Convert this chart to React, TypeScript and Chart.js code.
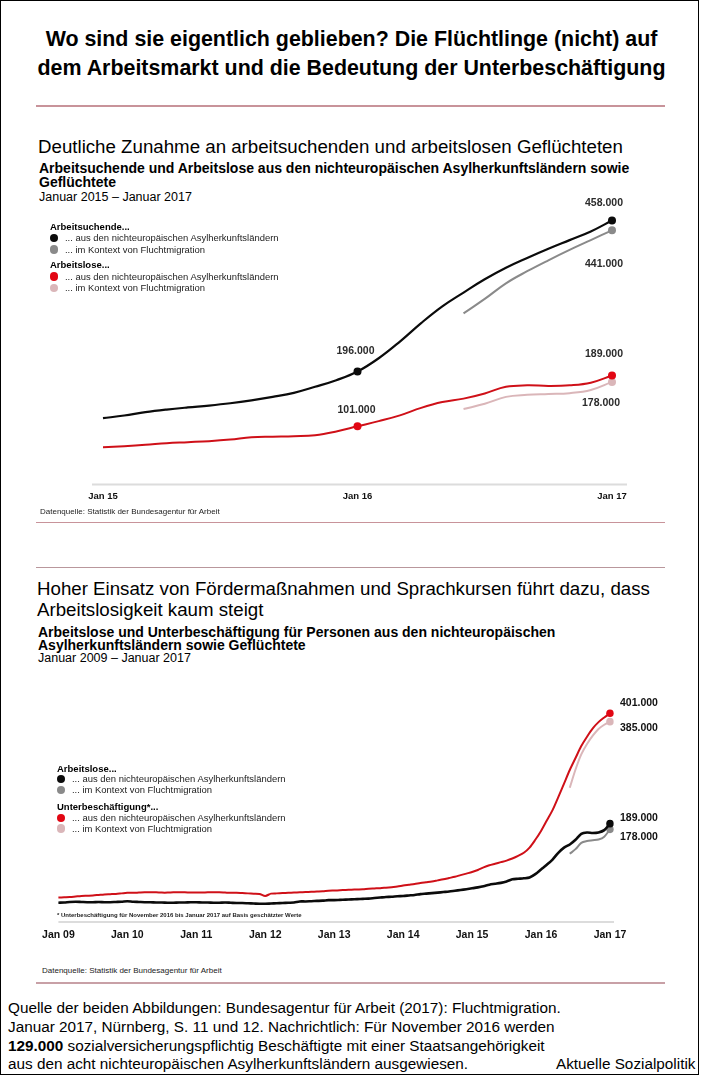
import React, { useEffect, useRef } from "react";
import { Chart, registerables } from "chart.js";
Chart.register(...registerables);

const FONT = '"Liberation Sans", Arial, Helvetica, sans-serif';

// ---------- categories ----------
const MONTH_NAMES = ["Jan", "Feb", "Mär", "Apr", "Mai", "Jun", "Jul", "Aug", "Sep", "Okt", "Nov", "Dez"];
const buildMonths = (firstYear: number, lastYear: number) => {
  const out: string[] = [];
  for (let y = firstYear; y < lastYear; y++) for (const m of MONTH_NAMES) out.push(`${m} ${String(y).padStart(2, "0")}`);
  out.push(`Jan ${String(lastYear).padStart(2, "0")}`);
  return out;
};
const months1 = buildMonths(15, 17); // Jan 15 .. Jan 17
const months2 = buildMonths(9, 17); // Jan 09 .. Jan 17
const leadingGap = (n: number) => Array(n).fill(null);

// ---------- chart 1 data (in thousands) ----------
const seekersAsylum1 = [115, 119.7, 125.5, 130, 133.7, 137, 141, 146, 152, 159, 169.5, 181, 196, 219, 248, 280, 309, 333, 356, 376, 393, 409, 424, 439, 458];
const seekersRefugee1 = [...leadingGap(17), 297, 322, 349, 370, 389, 407, 424, 441];
const unemployedAsylum1 = [64.7, 66.5, 68.8, 71.7, 73.4, 75.2, 78, 82, 83, 83.9, 85.6, 92, 101, 110, 120, 133, 143, 149, 158, 169.5, 172, 171, 172, 176.5, 189];
const unemployedRefugee1 = [...leadingGap(17), 131, 140, 152, 155.5, 157, 158.5, 164, 178];

// ---------- chart 2 data (in thousands) ----------
const unemployedAsylum2 = [
  37, 37.5, 38.5, 39, 38.5, 38, 38, 38.5, 38, 38, 38.5, 39,
  40, 39, 38.5, 38, 38, 37.5, 37.5, 37, 37, 37.5, 37.5, 38,
  38, 37.5, 37.5, 37, 37, 37.5, 37, 36.5, 36.5, 36, 35.5, 35,
  35, 35.5, 36, 36.5, 37, 37.5, 39.5, 39.5, 40, 40.5, 41, 42,
  42, 42.5, 43, 43.5, 44, 44.5, 45, 46, 47, 48, 48.5, 49.5,
  50, 51, 52, 53.5, 54.5, 55.5, 56.5, 57.5, 58.5, 60, 61.5, 63,
  64.7, 66.5, 68.8, 71.7, 73.4, 75.2, 78, 82, 83, 83.9, 85.6, 92,
  101, 110, 120, 133, 143, 149, 158, 169.5, 172, 171, 172, 176.5, 189,
];
const unemployedRefugee2 = [...leadingGap(89), 131, 140, 152, 155.5, 157, 158.5, 164, 178];
const underAsylum2 = [
  47, 47.5, 48, 49, 50, 50.5, 51, 52, 53, 53.5, 54, 55,
  56, 56, 56.5, 57, 57, 57, 56.5, 56.5, 57, 57, 57, 56.5,
  56.5, 56.5, 57, 57, 57, 56.5, 56, 56, 55.5, 55, 54.5, 54,
  50, 54.5, 55, 55.5, 56, 56.5, 57, 57.5, 58, 58.5, 59, 60,
  60.5, 61, 61.5, 62, 62.5, 63, 64, 64.5, 65, 66, 67, 68,
  70, 71.5, 73, 75, 76.5, 78, 80, 82, 84.5, 87, 90, 93,
  96, 100, 105, 109, 112, 115, 118, 122, 127, 133, 143, 158,
  175, 195, 215, 240, 266, 292, 315, 338, 356, 372, 384, 393, 401,
];
const underRefugee2 = [...leadingGap(89), 258, 293, 322, 342, 358, 371, 379, 385];

// ---------- colours ----------
const C_BLACK = "#0b0b0b";
const C_GRAY = "#8a8a8a";
const C_RED = "#cf1018";
const C_RED_DOT = "#e20613";
const C_PINK = "#dab6b9";

// ---------- plugins ----------
const axisLinePlugin = {
  id: "axisLine",
  beforeDatasetsDraw(chart: any, _a: any, opts: any) {
    const { ctx, chartArea } = chart;
    ctx.save();
    ctx.strokeStyle = opts.color || "#dcdcdc";
    ctx.lineWidth = opts.width || 2;
    ctx.beginPath();
    ctx.moveTo(chartArea.left - (opts.extLeft || 0), chartArea.bottom);
    ctx.lineTo(chartArea.right + (opts.extRight || 0), chartArea.bottom);
    ctx.stroke();
    ctx.restore();
  },
};

const valueLabelPlugin = {
  id: "valueLabels",
  afterDatasetsDraw(chart: any, _a: any, opts: any) {
    const { ctx } = chart;
    ctx.save();
    ctx.font = `bold ${opts.size}px ${FONT}`;
    ctx.fillStyle = opts.color;
    ctx.textBaseline = "middle";
    for (const it of opts.items || []) {
      const pt = chart.getDatasetMeta(it.ds).data[it.i];
      if (!pt) continue;
      ctx.textAlign = it.align || "center";
      ctx.fillText(it.text, pt.x + it.dx, pt.y + it.dy);
    }
    ctx.restore();
  },
};

const markerRadius = (indices: number[], r: number) => (c: any) => (indices.includes(c.dataIndex) ? r : 0);

function januaryOnly(this: any, value: any) {
  const l = this.getLabelForValue(value) as string;
  return l.startsWith("Jan") ? l : "";
}

// ---------- chart components ----------
function ChartOne() {
  const ref = useRef<HTMLCanvasElement | null>(null);
  useEffect(() => {
    if (!ref.current) return;
    const ds = (data: any[], color: string, dot: string, markers: number[], width = 2) => ({
      data,
      borderColor: color,
      borderWidth: width,
      backgroundColor: dot,
      pointBackgroundColor: dot,
      pointBorderWidth: 0,
      pointRadius: markerRadius(markers, 4),
      pointHoverRadius: 0,
      tension: 0.4,
      fill: false,
      spanGaps: false,
    });
    const chart = new Chart(ref.current, {
      type: "line",
      data: {
        labels: months1,
        datasets: [
          ds(seekersAsylum1, C_BLACK, C_BLACK, [12, 24], 2.2),
          ds(seekersRefugee1, C_GRAY, C_GRAY, [24]),
          ds(unemployedAsylum1, C_RED, C_RED_DOT, [12, 24]),
          ds(unemployedRefugee1, C_PINK, C_PINK, [24]),
        ],
      },
      options: {
        animation: false,
        responsive: false,
        events: [],
        layout: { padding: { left: 103, right: 91, top: 16.3, bottom: 15.5 } },
        plugins: {
          legend: { display: false },
          tooltip: { enabled: false },
          axisLine: { color: "#dcdcdc", width: 2, extLeft: 11, extRight: 15 },
          valueLabels: {
            size: 10.5,
            color: "#2b2b2b",
            items: [
              { ds: 0, i: 24, text: "458.000", dx: -8, dy: -17 },
              { ds: 1, i: 24, text: "441.000", dx: -8, dy: 34 },
              { ds: 0, i: 12, text: "196.000", dx: -2, dy: -20 },
              { ds: 2, i: 12, text: "101.000", dx: -1, dy: -16 },
              { ds: 2, i: 24, text: "189.000", dx: -8, dy: -21 },
              { ds: 3, i: 24, text: "178.000", dx: -11, dy: 21 },
            ],
          },
        } as any,
        scales: {
          x: {
            grid: { display: false, drawTicks: false },
            border: { display: false },
            ticks: {
              autoSkip: false,
              maxRotation: 0,
              padding: 6,
              color: "#111",
              font: { family: FONT, size: 9.5, weight: "bold" },
              callback: januaryOnly,
            },
            afterFit: (s: any) => {
              s.height = 20;
            },
          },
          y: { display: false, min: 0, max: 500 },
        },
      },
      plugins: [axisLinePlugin, valueLabelPlugin],
    });
    return () => chart.destroy();
  }, []);
  return <canvas ref={ref} width={703} height={340} style={{ position: "absolute", left: 0, top: 180, width: 703, height: 340 }} />;
}

function ChartTwo() {
  const ref = useRef<HTMLCanvasElement | null>(null);
  useEffect(() => {
    if (!ref.current) return;
    const ds = (data: any[], color: string, dot: string, width = 2) => ({
      data,
      borderColor: color,
      borderWidth: width,
      backgroundColor: dot,
      pointBackgroundColor: dot,
      pointBorderWidth: 0,
      pointRadius: markerRadius([96], 3.8),
      pointHoverRadius: 0,
      tension: 0.3,
      fill: false,
      spanGaps: false,
    });
    const chart = new Chart(ref.current, {
      type: "line",
      data: {
        labels: months2,
        datasets: [
          ds(unemployedAsylum2, C_BLACK, C_BLACK, 2.6),
          ds(unemployedRefugee2, C_GRAY, C_GRAY),
          ds(underAsylum2, C_RED, C_RED_DOT),
          ds(underRefugee2, C_PINK, C_PINK),
        ],
      },
      options: {
        animation: false,
        responsive: false,
        events: [],
        layout: { padding: { left: 58.4, right: 93, top: 13, bottom: 14 } },
        plugins: {
          legend: { display: false },
          tooltip: { enabled: false },
          axisLine: { color: "#dcdcdc", width: 2, extLeft: 0, extRight: 4 },
          valueLabels: {
            size: 10.5,
            color: "#111",
            items: [
              { ds: 2, i: 96, text: "401.000", dx: 10, dy: -10, align: "left" },
              { ds: 3, i: 96, text: "385.000", dx: 10, dy: 6, align: "left" },
              { ds: 0, i: 96, text: "189.000", dx: 10, dy: -6, align: "left" },
              { ds: 1, i: 96, text: "178.000", dx: 10, dy: 8, align: "left" },
            ],
          },
        } as any,
        scales: {
          x: {
            grid: { display: false, drawTicks: false },
            border: { display: false },
            ticks: {
              autoSkip: false,
              maxRotation: 0,
              padding: 7,
              color: "#111",
              font: { family: FONT, size: 10.5, weight: "bold" },
              callback: januaryOnly,
            },
            afterFit: (s: any) => {
              s.height = 24;
            },
          },
          y: { display: false, min: 0, max: 440 },
        },
      },
      plugins: [axisLinePlugin, valueLabelPlugin],
    });
    return () => chart.destroy();
  }, []);
  return <canvas ref={ref} width={703} height={280} style={{ position: "absolute", left: 0, top: 680, width: 703, height: 280 }} />;
}

// ---------- html helpers ----------
type TProps = { x: number; y: number; size: number; bold?: boolean; color?: string; children: React.ReactNode; center?: boolean; ls?: number };
function T({ x, y, size, bold, color, children, center, ls }: TProps) {
  const style: React.CSSProperties = {
    position: "absolute",
    top: y - size / 2,
    fontFamily: FONT,
    fontSize: size,
    lineHeight: `${size}px`,
    fontWeight: bold ? "bold" : "normal",
    color: color || "#000",
    whiteSpace: "nowrap",
    letterSpacing: ls ? `${ls}px` : undefined,
  };
  if (center) {
    style.left = 0;
    style.width = 703;
    style.textAlign = "center";
  } else style.left = x;
  return <div style={style}>{children}</div>;
}

function Dot({ x, y, color, r = 4.2 }: { x: number; y: number; color: string; r?: number }) {
  return <div style={{ position: "absolute", left: x - r, top: y - r, width: 2 * r, height: 2 * r, borderRadius: "50%", background: color }} />;
}

function Rule({ y, x1 = 36, x2 = 665, color = "#c8939a" }: { y: number; x1?: number; x2?: number; color?: string }) {
  return <div style={{ position: "absolute", left: x1, top: y - 0.75, width: x2 - x1, height: 1.5, background: color }} />;
}

function Legend({ x, ys, heads, items }: { x: number; ys: number[]; heads: string[]; items: { label: string; color: string }[] }) {
  return (
    <>
      <T x={x} y={ys[0]} size={9.5} bold>{heads[0]}</T>
      <Dot x={x + 4} y={ys[1]} color={items[0].color} />
      <T x={x + 15} y={ys[1]} size={9.45} color="#222">{items[0].label}</T>
      <Dot x={x + 4} y={ys[2]} color={items[1].color} />
      <T x={x + 15} y={ys[2]} size={9.45} color="#222">{items[1].label}</T>
      <T x={x} y={ys[3]} size={9.5} bold>{heads[1]}</T>
      <Dot x={x + 4} y={ys[4]} color={items[2].color} />
      <T x={x + 15} y={ys[4]} size={9.45} color="#222">{items[2].label}</T>
      <Dot x={x + 4} y={ys[5]} color={items[3].color} />
      <T x={x + 15} y={ys[5]} size={9.45} color="#222">{items[3].label}</T>
    </>
  );
}

const ITEM_ASYL = "... aus den nichteuropäischen  Asylherkunftsländern";
const ITEM_FLUCHT = "... im Kontext  von Fluchtmigration";

export default function App() {
  return (
    <div style={{ position: "absolute", left: 0, top: 0, width: 703, height: 1080, background: "#fff", overflow: "hidden", fontFamily: FONT }}>
      <div style={{ position: "absolute", left: 0, top: 0, width: 697, height: 1073, border: "1px solid #000" }} />
      <T x={0} y={40} size={21.4} bold center>Wo sind sie eigentlich geblieben? Die Flüchtlinge (nicht) auf</T>
      <T x={0} y={69} size={21.4} bold center>dem Arbeitsmarkt und die Bedeutung der Unterbeschäftigung</T>
      <Rule y={106} />

      <T x={38} y={147} size={18.7}>Deutliche Zunahme an arbeitsuchenden und arbeitslosen Geflüchteten</T>
      <T x={39} y={168} size={14} bold>Arbeitsuchende und Arbeitslose aus den nichteuropäischen Asylherkunftsländern sowie</T>
      <T x={39} y={182} size={14} bold>Geflüchtete</T>
      <T x={39} y={197} size={12.5}>Januar 2015 – Januar 2017</T>
      <ChartOne />
      <Legend
        x={50}
        ys={[227, 238, 249.5, 265, 276.5, 288]}
        heads={["Arbeitsuchende...", "Arbeitslose..."]}
        items={[
          { label: ITEM_ASYL, color: C_BLACK },
          { label: ITEM_FLUCHT, color: C_GRAY },
          { label: ITEM_ASYL, color: C_RED_DOT },
          { label: ITEM_FLUCHT, color: C_PINK },
        ]}
      />
      <T x={40} y={512} size={8} color="#222">Datenquelle:  Statistik der Bundesagentur für Arbeit</T>
      <Rule y={522.5} />
      <Rule y={567.5} color="#b9979c" />

      <T x={37} y={589} size={18.7}>Hoher Einsatz von Fördermaßnahmen und Sprachkursen führt dazu, dass</T>
      <T x={37} y={610} size={18.7}>Arbeitslosigkeit kaum steigt</T>
      <T x={38} y={632} size={14} bold>Arbeitslose und Unterbeschäftigung für Personen aus den nichteuropäischen</T>
      <T x={38} y={644.5} size={14} bold>Asylherkunftsländern sowie Geflüchtete</T>
      <T x={38} y={658.5} size={12.5}>Januar 2009 – Januar 2017</T>
      <ChartTwo />
      <Legend
        x={57}
        ys={[768.5, 779, 790, 806.7, 817.7, 828.5]}
        heads={["Arbeitslose...", "Unterbeschäftigung*..."]}
        items={[
          { label: ITEM_ASYL, color: C_BLACK },
          { label: ITEM_FLUCHT, color: C_GRAY },
          { label: ITEM_ASYL, color: C_RED_DOT },
          { label: ITEM_FLUCHT, color: C_PINK },
        ]}
      />
      <T x={57} y={914.5} size={6} bold color="#222">* Unterbeschäftigung  für November 2016 bis Januar  2017 auf Basis  geschätzter Werte</T>
      <T x={42} y={971} size={8} color="#222">Datenquelle:  Statistik der Bundesagentur für Arbeit</T>
      <Rule y={983} color="#c8a0a6" />

      <T x={8} y={1008} size={15.3}>Quelle der beiden Abbildungen: Bundesagentur für Arbeit (2017): Fluchtmigration.</T>
      <T x={8} y={1027} size={15.3}>Januar 2017, Nürnberg, S. 11 und 12. Nachrichtlich: Für November 2016 werden</T>
      <T x={8} y={1045.5} size={15.3}><b>129.000</b> sozialversicherungspflichtig Beschäftigte mit einer Staatsangehörigkeit</T>
      <T x={8} y={1064} size={15.3}>aus den acht nichteuropäischen Asylherkunftsländern ausgewiesen.</T>
      <T x={556} y={1064} size={15.3}>Aktuelle Sozialpolitik</T>
    </div>
  );
}
